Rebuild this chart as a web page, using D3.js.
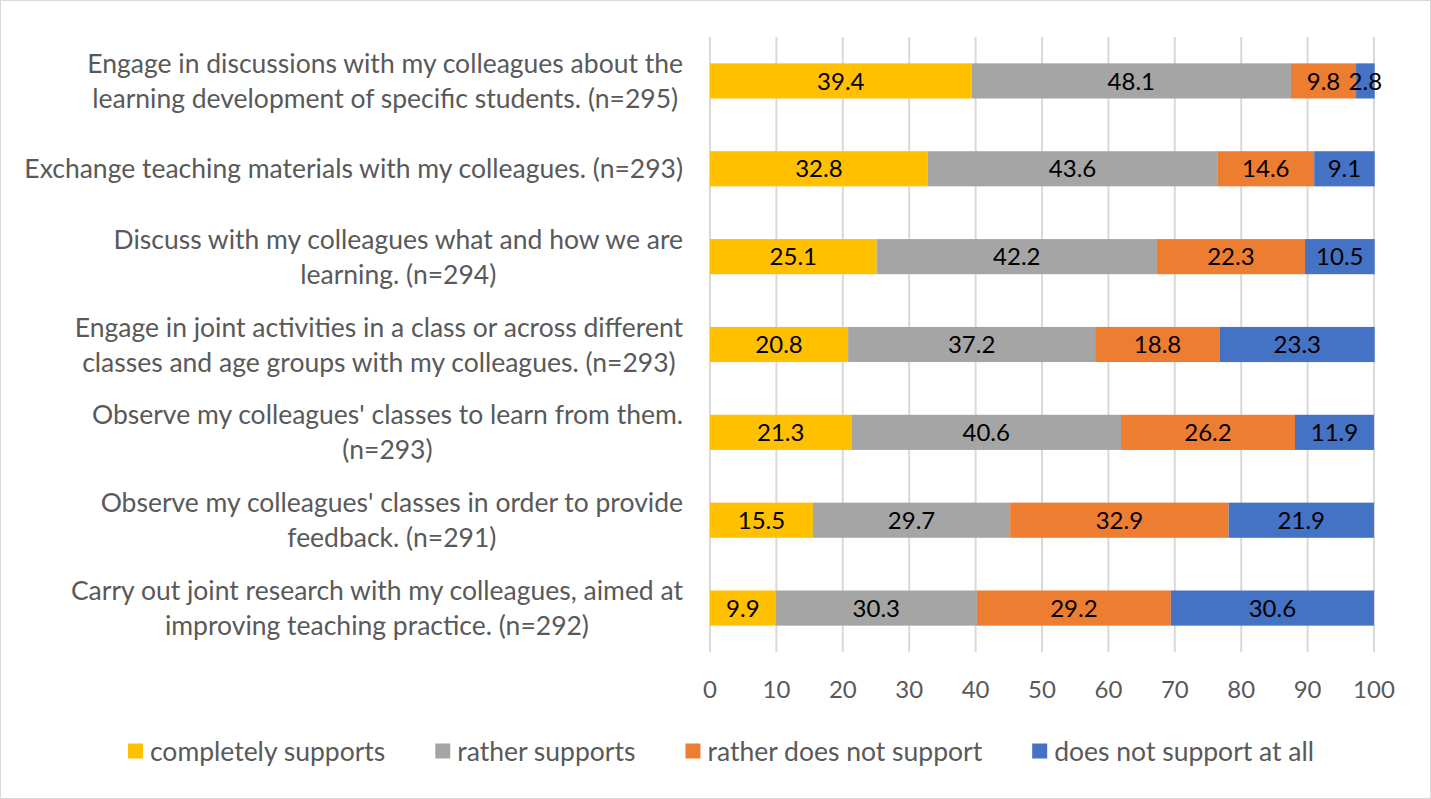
<!DOCTYPE html>
<html><head><meta charset="utf-8">
<script src="https://cdn.jsdelivr.net/npm/d3@7"></script>
<style>
html,body{margin:0;padding:0;background:#fff;}
svg{display:block;font-family:Lato, "Open Sans", sans-serif;}
</style></head>
<body><svg id="chart" width="1431" height="799"></svg>
<script>
const categories = [
  ["Engage in discussions with my colleagues about the", "learning development of specific students. (n=295)"],
  ["Exchange teaching materials with my colleagues. (n=293)"],
  ["Discuss with my colleagues what and how we are", "learning. (n=294)"],
  ["Engage in joint activities in a class or across different", "classes and age groups with my colleagues. (n=293)"],
  ["Observe my colleagues' classes to learn from them.", "(n=293)"],
  ["Observe my colleagues' classes in order to provide", "feedback. (n=291)"],
  ["Carry out joint research with my colleagues, aimed at", "improving teaching practice. (n=292)"]
];
const seriesNames = ["completely supports", "rather supports", "rather does not support", "does not support at all"];
const completelySupports = [39.4, 32.8, 25.1, 20.8, 21.3, 15.5, 9.9];
const ratherSupports     = [48.1, 43.6, 42.2, 37.2, 40.6, 29.7, 30.3];
const ratherNotSupport   = [9.8, 14.6, 22.3, 18.8, 26.2, 32.9, 29.2];
const notSupportAtAll    = [2.8, 9.1, 10.5, 23.3, 11.9, 21.9, 30.6];
const xTicks = [0, 10, 20, 30, 40, 50, 60, 70, 80, 90, 100];
const colors = ["#FFC000", "#A5A5A5", "#ED7D31", "#4472C4"];

const seriesValues = [completelySupports, ratherSupports, ratherNotSupport, notSupportAtAll];
const svg = d3.select("#chart");
svg.append("rect").attr("x",0.5).attr("y",0.5).attr("width",1430).attr("height",798)
  .attr("fill","#fff").attr("stroke","#d9d9d9");

const plot = {left:710, right:1374, top:37, bottom:652};
const x = d3.scaleLinear().domain([0,100]).range([plot.left, plot.right]);
const y = d3.scaleBand().domain(d3.range(categories.length)).range([plot.top, plot.bottom]).paddingInner(0.6).paddingOuter(0.3);

// gridlines
svg.append("g").selectAll("line").data(xTicks).join("line")
  .attr("x1", d=>x(d)).attr("x2", d=>x(d)).attr("y1", plot.top).attr("y2", plot.bottom)
  .attr("stroke","#d9d9d9").attr("stroke-width",2);

// tick labels
svg.append("g").selectAll("text").data(xTicks).join("text")
  .attr("x", d=>x(d)).attr("y", 698).attr("text-anchor","middle")
  .attr("fill","#595959").attr("font-size",24).text(d=>d);

// stacked data
const rows = categories.map((c,i)=>{ const o={i}; seriesNames.forEach((s,k)=>o[s]=seriesValues[k][i]); return o;});
const stack = d3.stack().keys(seriesNames)(rows);
const g = svg.append("g");
stack.forEach((layer,k)=>{
  g.append("g").selectAll("rect").data(layer).join("rect")
    .attr("x", d=>x(d[0])).attr("width", d=>x(d[1])-x(d[0]))
    .attr("y", (d,i)=>y(i)).attr("height", y.bandwidth())
    .attr("fill", colors[k]);
});
stack.forEach((layer,k)=>{
  g.append("g").selectAll("text").data(layer).join("text")
    .attr("x", d=>(x(d[0])+x(d[1]))/2).attr("y", (d,i)=>y(i)+y.bandwidth()/2)
    .attr("dy","0.36em").attr("text-anchor","middle").attr("font-size",24).attr("fill","#000")
    .text(d=>d.data[seriesNames[k]]);
});

// category labels
const labelRight = 683, lineH = 35;
categories.forEach((lines,i)=>{
  const grp = svg.append("g");
  const cy = y(i)+y.bandwidth()/2;
  const texts = lines.map((l,j)=>grp.append("text")
    .attr("y", cy + (j-(lines.length-1)/2)*lineH).attr("dy","0.36em")
    .attr("text-anchor","middle").attr("font-size",26.5).attr("fill","#595959").text(l));
  const w = d3.max(texts, t=>t.node().getComputedTextLength());
  texts.forEach(t=>t.attr("x", labelRight - w/2));
});

// legend
const leg = svg.append("g");
const items = seriesNames.map((s,k)=>{
  const it = leg.append("g");
  it.append("rect").attr("width",15).attr("height",15).attr("y",-7.5).attr("fill",colors[k]);
  const t = it.append("text").attr("x",22).attr("dy","0.36em").attr("font-size",26.5).attr("fill","#595959").text(s);
  return {it, w: 22 + t.node().getComputedTextLength()};
});
const gap = 50;
const total = d3.sum(items, d=>d.w) + gap*(items.length-1);
let cx = 721 - total/2;
items.forEach(d=>{ d.it.attr("transform",`translate(${cx},751)`); cx += d.w + gap; });
</script></body></html>
